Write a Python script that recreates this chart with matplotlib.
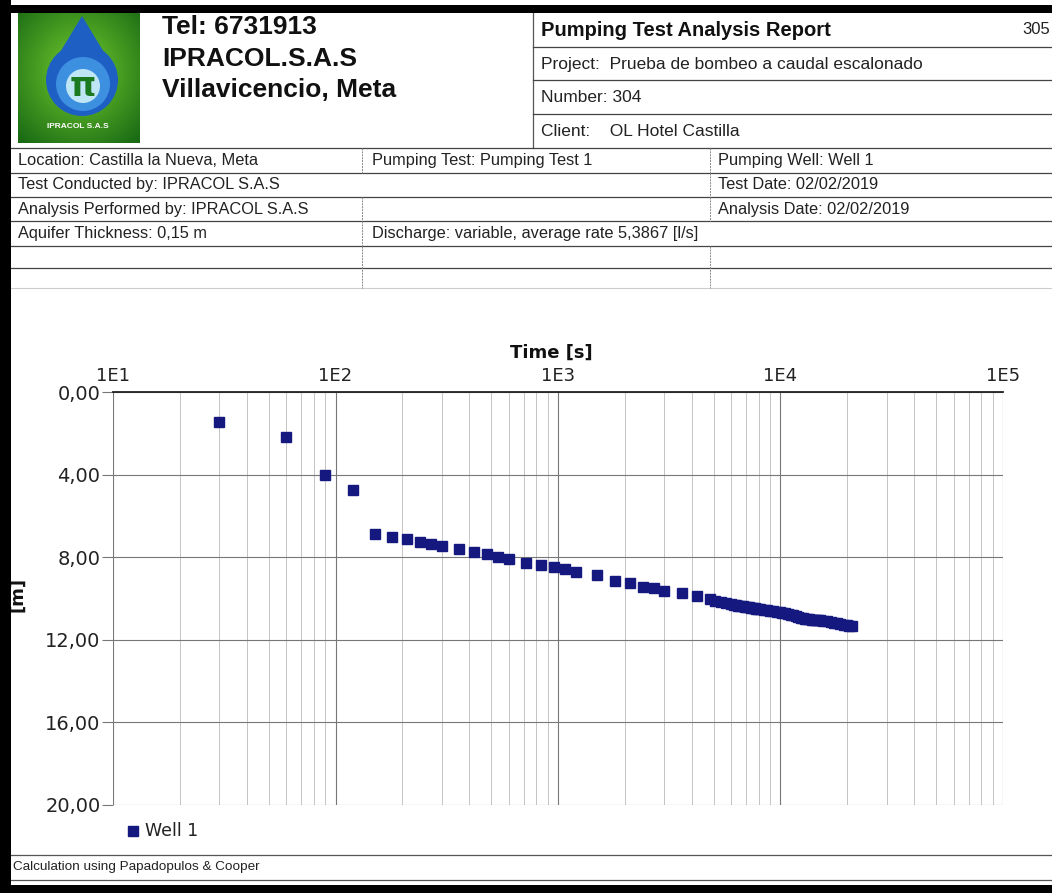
import numpy as np
import matplotlib
matplotlib.use("Agg")
import matplotlib.pyplot as plt
from matplotlib.patches import Rectangle, Circle, Polygon
from matplotlib.ticker import FixedLocator, FuncFormatter, NullFormatter

# ---- Drawdown record, Well 1 ----
time_s = [30, 60, 90, 120, 150, 180, 210, 240, 270, 300,
          360, 420, 480, 540, 600, 720, 840, 960, 1080, 1200,
          1500, 1800, 2100, 2400, 2700, 3000, 3600, 4200, 4800,
          5100, 5400, 5700, 6000, 6150, 6300, 6450, 6600, 6750, 6900,
          7050, 7200, 7350, 7500, 7650, 7800, 7950, 8100, 8400, 8700,
          9000, 9300, 9600, 9900, 10200, 10500, 10800, 11100, 11400, 11700,
          12000, 12300, 12600, 12900, 13200, 13500, 13800, 14100, 14400, 14700,
          15000, 15600, 16200, 16800, 17400, 18000, 18600, 19200, 19800,
          20400, 21000]
drawdown_m = [1.44, 2.17, 4.02, 4.73, 6.90, 7.03, 7.12, 7.24, 7.35, 7.46,
              7.62, 7.73, 7.86, 7.98, 8.08, 8.29, 8.39, 8.48, 8.58, 8.70,
              8.86, 9.13, 9.26, 9.42, 9.51, 9.62, 9.72, 9.88, 10.04,
              10.12, 10.18, 10.23, 10.28, 10.30, 10.32, 10.34, 10.36, 10.38, 10.40,
              10.41, 10.43, 10.44, 10.46, 10.47, 10.49, 10.50, 10.52, 10.55, 10.57,
              10.60, 10.62, 10.64, 10.66, 10.69, 10.72, 10.75, 10.78, 10.82, 10.86,
              10.90, 10.93, 10.96, 10.98, 10.99, 11.01, 11.02, 11.03, 11.04, 11.05,
              11.06, 11.08, 11.11, 11.14, 11.17, 11.20, 11.23, 11.26, 11.29,
              11.31, 11.34]

x_ticks = [1e1, 1e2, 1e3, 1e4, 1e5]
x_tick_labels = ["1E1", "1E2", "1E3", "1E4", "1E5"]
y_ticks = [0, 4, 8, 12, 16, 20]
y_tick_labels = ["0,00", "4,00", "8,00", "12,00", "16,00", "20,00"]

# ---- Report header fields ----
header_lines = ["Tel: 6731913", "IPRACOL.S.A.S", "Villavicencio, Meta"]
report_title = "Pumping Test Analysis Report"
report_page = "305"
report_rows = ["Project:  Prueba de bombeo a caudal escalonado",
               "Number: 304",
               "Client:    OL Hotel Castilla"]
table_rows = [
    ["Location: Castilla la Nueva, Meta", "Pumping Test: Pumping Test 1", "Pumping Well: Well 1"],
    ["Test Conducted by: IPRACOL S.A.S", "", "Test Date: 02/02/2019"],
    ["Analysis Performed by: IPRACOL S.A.S", "", "Analysis Date: 02/02/2019"],
    ["Aquifer Thickness: 0,15 m", "Discharge: variable, average rate 5,3867 [l/s]", ""],
]
footer_text = "Calculation using Papadopulos & Cooper"
series_name = "Well 1"

W, H = 1052, 893
fig = plt.figure(figsize=(W / 100, H / 100), dpi=100, facecolor="white")

# page layer in pixel coordinates
pg = fig.add_axes([0, 0, 1, 1])
pg.set_xlim(0, W)
pg.set_ylim(H, 0)
pg.axis("off")

SANS = "Liberation Sans"
MARK = "#15187f"

# logo: green tile with a blue drop
yy, xx = np.mgrid[0:1:120j, 0:1:120j]
rad = np.sqrt((xx - 0.5) ** 2 + (yy - 0.45) ** 2)
g = np.clip(1 - rad * 1.4, 0, 1)
tile = np.dstack([0.10 + 0.35 * g, 0.42 + 0.38 * g, 0.08 + 0.10 * g])
pg.imshow(tile, extent=(18, 140, 143, 12), zorder=1, interpolation="bilinear")
pg.add_patch(Polygon([(82, 16), (48, 72), (116, 72)], closed=True,
                     facecolor="#1e5fc4", edgecolor="none", zorder=2))
pg.add_patch(Circle((82, 80), 36, facecolor="#1e5fc4", edgecolor="none", zorder=2))
pg.add_patch(Circle((83, 84), 27, facecolor="#3d8fe0", edgecolor="none", zorder=3))
pg.add_patch(Circle((83, 86), 17, facecolor="#bfe6f4", edgecolor="none", zorder=3))
pg.text(83, 86, "π", ha="center", va="center", fontsize=24, fontweight="bold",
        color="#1b7a20", family="DejaVu Sans", zorder=4)
pg.text(78, 127, "IPRACOL S.A.S", ha="center", va="center", fontsize=6,
        fontweight="bold", color="white", family=SANS, zorder=4)

# company lines
for i, s in enumerate(header_lines):
    pg.text(162, 27 + i * 31.5, s, ha="left", va="center", fontsize=19,
            fontweight="bold", color="#111111", family=SANS)

# report box on the right
pg.plot([533, 533], [12, 148], color="#555555", lw=0.9)
pg.text(541, 30, report_title, ha="left", va="center", fontsize=14.5,
        fontweight="bold", color="#111111", family=SANS)
pg.text(1050, 30, report_page, ha="right", va="center", fontsize=12,
        color="#222222", family=SANS)
for yl in [47, 80, 114]:
    pg.plot([533, W], [yl, yl], color="#444444", lw=0.9)
for i, s in enumerate(report_rows):
    pg.text(541, 64 + i * 33.5, s, ha="left", va="center", fontsize=12.5,
            color="#222222", family=SANS)

# information table
row_lines = [148, 173, 197, 221, 246, 268]
for yl in row_lines:
    pg.plot([10, W], [yl, yl], color="#444444", lw=0.9)
pg.plot([10, W], [288, 288], color="#cccccc", lw=0.8)
# column separators, row by row
sep_rows = [(148, 173, [362, 710]), (173, 197, [710]), (197, 221, [362, 710]),
            (221, 246, [362]), (246, 288, [362, 710])]
for ya, yb, xs in sep_rows:
    for xv in xs:
        pg.plot([xv, xv], [ya, yb], color="#888888", lw=0.7, ls=(0, (2, 1)))
col_x = [18, 372, 718]
for r, row in enumerate(table_rows):
    for c, s in enumerate(row):
        if s:
            pg.text(col_x[c], 160.5 + r * 24.3, s, ha="left", va="center",
                    fontsize=11.8, color="#222222", family=SANS)

# footer
pg.plot([10, W], [855, 855], color="#555555", lw=0.9)
pg.plot([10, W], [880, 880], color="#555555", lw=0.9)
pg.text(13, 867, footer_text, ha="left", va="center", fontsize=9.7,
        color="#222222", family=SANS)

# axis captions and legend
pg.text(551, 353, "Time [s]", ha="center", va="center", fontsize=13,
        fontweight="bold", color="#111111")
pg.text(17, 594, "[m]", ha="center", va="center", fontsize=13,
        fontweight="bold", color="#111111", rotation=90)
pg.plot([133], [831], marker="s", ms=7, color=MARK, ls="none")
pg.text(145, 831, series_name, ha="left", va="center", fontsize=12.5,
        color="#222222")

# scan frame
pg.add_patch(Rectangle((0, 0), 11, H, facecolor="black", edgecolor="none", zorder=10))
pg.add_patch(Rectangle((0, 5), W, 8, facecolor="black", edgecolor="none", zorder=10))
pg.add_patch(Rectangle((0, 885), W, 8, facecolor="black", edgecolor="none", zorder=10))

# ---- Time-drawdown chart ----
x0, x1, y0, y1 = 113, 1003, 392, 805
ax = fig.add_axes([x0 / W, 1 - y1 / H, (x1 - x0) / W, (y1 - y0) / H])
ax.set_facecolor("none")
ax.set_xscale("log")
ax.set_xlim(1e1, 1e5)
ax.set_ylim(20, 0)

ax.xaxis.tick_top()
ax.xaxis.set_major_locator(FixedLocator(x_ticks))
ax.xaxis.set_major_formatter(FuncFormatter(
    lambda v, p: x_tick_labels[x_ticks.index(v)] if v in x_ticks else ""))
minor = [m * 10 ** e for e in range(1, 5) for m in range(2, 10)]
ax.xaxis.set_minor_locator(FixedLocator(minor))
ax.xaxis.set_minor_formatter(NullFormatter())
ax.tick_params(axis="x", which="both", length=0, pad=5, labelsize=13, labelcolor="#222222")

ax.yaxis.set_major_locator(FixedLocator(y_ticks))
ax.set_yticklabels(y_tick_labels)
ax.tick_params(axis="y", which="major", length=8, width=0.8, color="#777777",
               pad=1, labelsize=14, labelcolor="#222222")

ax.grid(True, which="major", axis="both", color="#777777", lw=0.8)
ax.grid(True, which="minor", axis="x", color="#bbbbbb", lw=0.6)
for s in ["left", "right", "bottom"]:
    ax.spines[s].set_visible(False)
ax.spines["top"].set_color("#222222")
ax.spines["top"].set_linewidth(1.3)

ax.plot(time_s, drawdown_m, ls="none", marker="s", ms=7.2, color=MARK,
        mec=MARK, label=series_name, clip_on=False, zorder=3)

fig.savefig("out.png", dpi=100, facecolor="white")
